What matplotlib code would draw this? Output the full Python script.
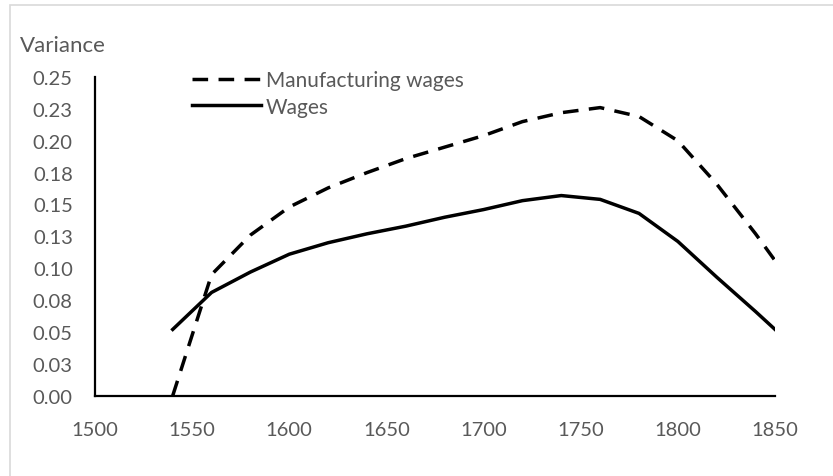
import matplotlib.pyplot as plt
from matplotlib.patches import Rectangle

# Datos
anios = [1540, 1560, 1580, 1600, 1620, 1640, 1660, 1680, 1700, 1720, 1740, 1760, 1780, 1800, 1820, 1840, 1850]
manufactura = [0.0, 0.095, 0.126, 0.148, 0.163, 0.175, 0.186, 0.195, 0.204, 0.215, 0.222, 0.226, 0.219, 0.200, 0.166, 0.127, 0.106]
salarios = [0.052, 0.081, 0.097, 0.111, 0.120, 0.127, 0.133, 0.140, 0.146, 0.153, 0.157, 0.154, 0.143, 0.121, 0.093, 0.066, 0.052]

y_ticks = [0, 0.025, 0.05, 0.075, 0.1, 0.125, 0.15, 0.175, 0.2, 0.225, 0.25]
y_labels = ["0.00", "0.03", "0.05", "0.08", "0.10", "0.13", "0.15", "0.18", "0.20", "0.23", "0.25"]
x_ticks = [1500, 1550, 1600, 1650, 1700, 1750, 1800, 1850]

gris = "#595959"
plt.rcParams['font.family'] = ['Lato', 'DejaVu Sans']

fig = plt.figure(figsize=(8.33, 4.77), dpi=100)
ax = fig.add_axes([95 / 833, 1 - 396.7 / 477, 680 / 833, 318.7 / 477])

# Marco gris del area del grafico
fig.patches.append(Rectangle((10 / 833, -0.1), 2, 1.1 - 6 / 477, transform=fig.transFigure,
                             fill=False, edgecolor="#d9d9d9", linewidth=1.2))

ax.plot(anios, manufactura, color="black", lw=2.5, linestyle=(0, (4.5, 3)), label="Manufacturing wages")
ax.plot(anios, salarios, color="black", lw=2.5, label="Wages")

ax.set_xlim(1500, 1850)
ax.set_ylim(0, 0.25)
ax.set_xticks(x_ticks)
ax.set_yticks(y_ticks)
ax.set_yticklabels(y_labels)
ax.tick_params(length=0, labelsize=14.5, colors=gris)
ax.tick_params(axis='y', pad=16)
ax.tick_params(axis='x', pad=18)

for lado in ["top", "right"]:
    ax.spines[lado].set_visible(False)
for lado in ["left", "bottom"]:
    ax.spines[lado].set_linewidth(1.6)
    ax.spines[lado].set_color("black")

fig.text(20 / 833, 1 - 46 / 477, "Variance", fontsize=16, color=gris, va="center", ha="left")

leg = ax.legend(loc="upper left", bbox_to_anchor=(0.1426, 1.021), frameon=False, fontsize=15,
                handlelength=3.3, handletextpad=0.25, labelspacing=0.3, borderpad=0, borderaxespad=0)
for t in leg.get_texts():
    t.set_color(gris)

fig.savefig("out.png", dpi=100)
